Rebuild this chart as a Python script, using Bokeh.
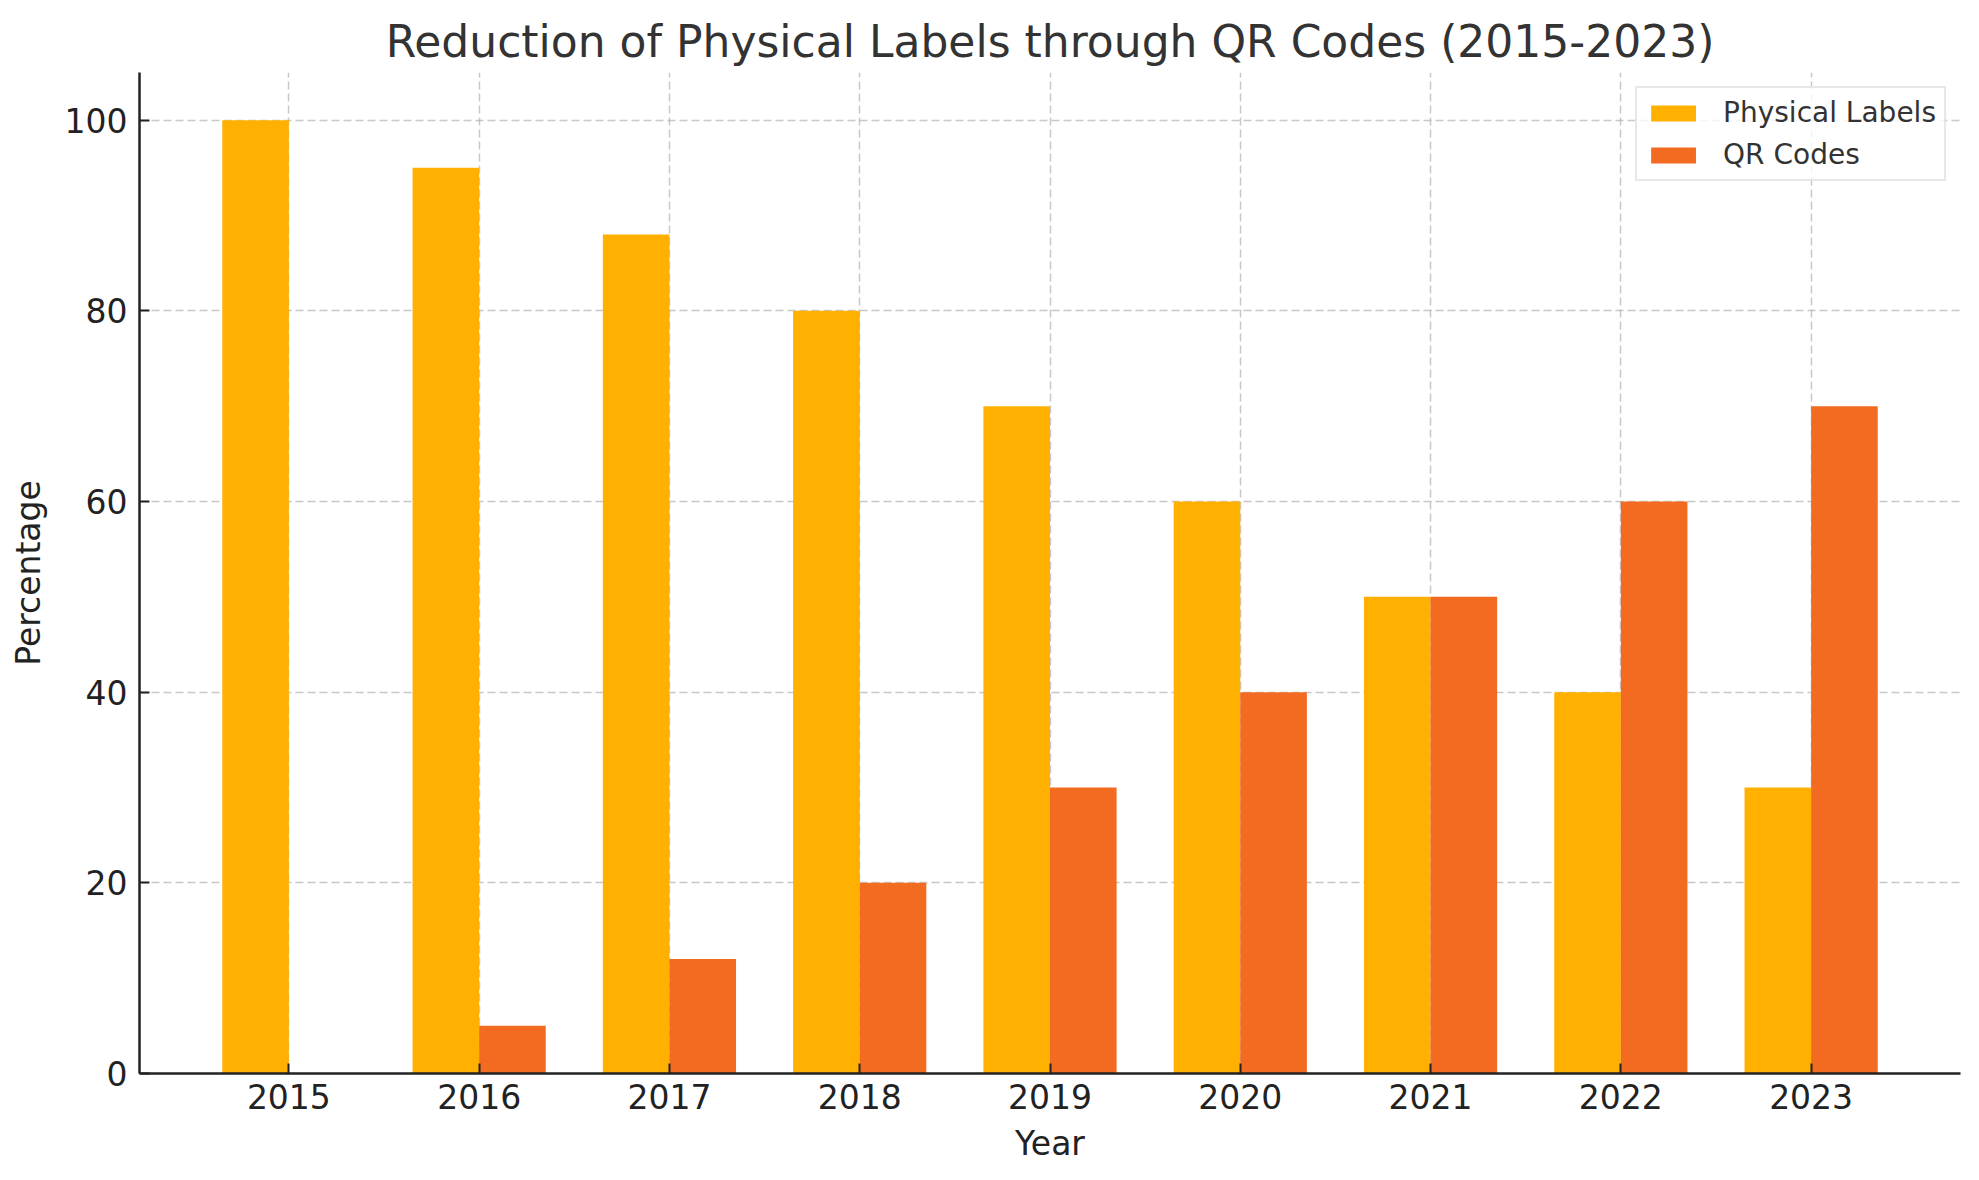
from bokeh.plotting import figure
from bokeh.models import ColumnDataSource, FactorRange, Legend, LegendItem, Title
from bokeh.transform import dodge
from bokeh.embed import file_html
from bokeh.resources import INLINE

years = ["2015", "2016", "2017", "2018", "2019", "2020", "2021", "2022", "2023"]
physical_labels = [100, 95, 88, 80, 70, 60, 50, 40, 30]
qr_codes = [0, 5, 12, 20, 30, 40, 50, 60, 70]

FONT = "DejaVu Sans"
src = ColumnDataSource(dict(years=years, physical=physical_labels, qr=qr_codes))

xr = FactorRange(factors=years, range_padding=0.285, range_padding_units="absolute")
p = figure(x_range=xr, y_range=(0, 105), width=1970, height=1170,
           output_backend="svg", toolbar_location=None,
           min_border_left=139, min_border_right=10, min_border_top=72, min_border_bottom=97)
p.title = Title(text="Reduction of Physical Labels through QR Codes (2015-2023)",
                text_font=FONT, text_font_size="44px", text_font_style="normal",
                text_color="#333333", align="center", offset=0, standoff=12)

r1 = p.vbar(x=dodge("years", -0.175, range=xr), top="physical", width=0.35, source=src,
            fill_color="#FFB000", line_color=None)
r2 = p.vbar(x=dodge("years", 0.175, range=xr), top="qr", width=0.35, source=src,
            fill_color="#F26B21", line_color=None)

p.outline_line_color = None
for ax in (p.xaxis, p.yaxis):
    ax.axis_line_color = "#222222"
    ax.axis_line_width = 2.5
    ax.major_tick_line_color = "#222222"
    ax.major_tick_line_width = 2
    ax.major_tick_in = 10
    ax.major_tick_out = 0
    ax.minor_tick_line_color = None
    ax.major_label_text_font = FONT
    ax.major_label_text_font_size = "33px"
    ax.major_label_text_color = "#222222"
    ax.axis_label_text_font = FONT
    ax.axis_label_text_font_size = "33px"
    ax.axis_label_text_font_style = "normal"
    ax.axis_label_text_color = "#222222"
p.xaxis.axis_label = "Year"
p.yaxis.axis_label = "Percentage"
p.xaxis.major_label_standoff = 10
p.yaxis.major_label_standoff = 12
p.xaxis.axis_label_standoff = 12
p.yaxis.axis_label_standoff = 14
p.yaxis.ticker = [0, 20, 40, 60, 80, 100]
p.xaxis.group_text_font_size = "0px"

for g in (p.xgrid, p.ygrid):
    g.grid_line_color = "#b0b0b0"
    g.grid_line_alpha = 0.7
    g.grid_line_dash = "8 4"
    g.grid_line_width = 1.5

legend = Legend(items=[LegendItem(label="Physical Labels", renderers=[r1]),
                       LegendItem(label="QR Codes", renderers=[r2])],
                location="top_right", label_text_font=FONT, label_text_font_size="28px",
                label_text_color="#333333", glyph_width=56, glyph_height=20,
                border_line_color="#d0d0d0", border_line_width=2.5,
                background_fill_alpha=0.8, margin=14, padding=8, spacing=9,
                label_standoff=22)
p.add_layout(legend)

open("out.html", "w").write(file_html(p, INLINE))
